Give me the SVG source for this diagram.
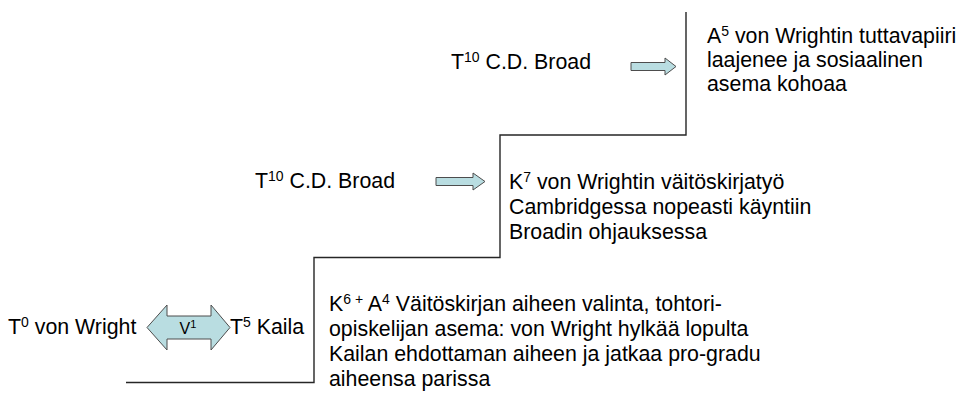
<svg xmlns="http://www.w3.org/2000/svg" width="972" height="399" viewBox="0 0 972 399">
<style>
text{font-family:"Liberation Sans",Arial,sans-serif;font-size:21.33px;fill:#000}
.sup{font-size:14px}
.stair{fill:none;stroke:#262626;stroke-width:1.4}
.arr{fill:#B9DDE1;stroke:#4d4d4d;stroke-width:1}
</style>
<rect width="972" height="399" fill="#fff"/>
<g id="connectors">
<path class="stair" d="M126,382.5 H314 V257.5 H500 V135 H686 V12"/>
<path id="arrow-top" class="arr" d="M631,62.5 H665 V58 L676,66.5 L665,75 V70.5 H631 Z"/>
<path id="arrow-mid" class="arr" d="M436,177.5 H473 V173 L485,181.5 L473,190 V185.5 H436 Z"/>
</g>
<g id="v1-link">
<path class="arr" d="M147,327.5 L167,305 V316 H211 V305 L230,327.5 L211,350 V339 H167 V350 Z"/>
<text x="188" y="334" text-anchor="middle" style="font-size:16px">V<tspan class="sup" dy="-6" style="font-size:11px">1</tspan></text>
</g>
<g id="t0-vonwright">
<text x="8" y="334">T<tspan class="sup" dy="-7">0</tspan><tspan dy="7"> von Wright</tspan></text>
</g>
<g id="t5-kaila">
<text x="230" y="334">T<tspan class="sup" dy="-7">5</tspan><tspan dy="7"> Kaila</tspan></text>
</g>
<g id="t10-broad-mid">
<text x="255" y="188">T<tspan class="sup" dy="-7">10</tspan><tspan dy="7"> C.D. Broad</tspan></text>
</g>
<g id="t10-broad-top">
<text x="451" y="69">T<tspan class="sup" dy="-7">10</tspan><tspan dy="7"> C.D. Broad</tspan></text>
</g>
<g id="k6-a4">
<text x="329" y="311">K<tspan class="sup" dy="-7">6 +</tspan><tspan dy="7"> A</tspan><tspan class="sup" dy="-7">4</tspan><tspan dy="7"> Väitöskirjan aiheen valinta, tohtori-</tspan></text>
<text x="329" y="336">opiskelijan asema: von Wright hylkää lopulta</text>
<text x="329" y="361">Kailan ehdottaman aiheen ja jatkaa pro-gradu</text>
<text x="329" y="386">aiheensa parissa</text>
</g>
<g id="k7">
<text x="509" y="189">K<tspan class="sup" dy="-7">7</tspan><tspan dy="7"> von Wrightin väitöskirjatyö</tspan></text>
<text x="509" y="214">Cambridgessa nopeasti käyntiin</text>
<text x="509" y="239">Broadin ohjauksessa</text>
</g>
<g id="a5">
<text x="707" y="43">A<tspan class="sup" dy="-7">5</tspan><tspan dy="7"> von Wrightin tuttavapiiri</tspan></text>
<text x="707" y="67">laajenee ja sosiaalinen</text>
<text x="707" y="91">asema kohoaa</text>
</g>
</svg>
